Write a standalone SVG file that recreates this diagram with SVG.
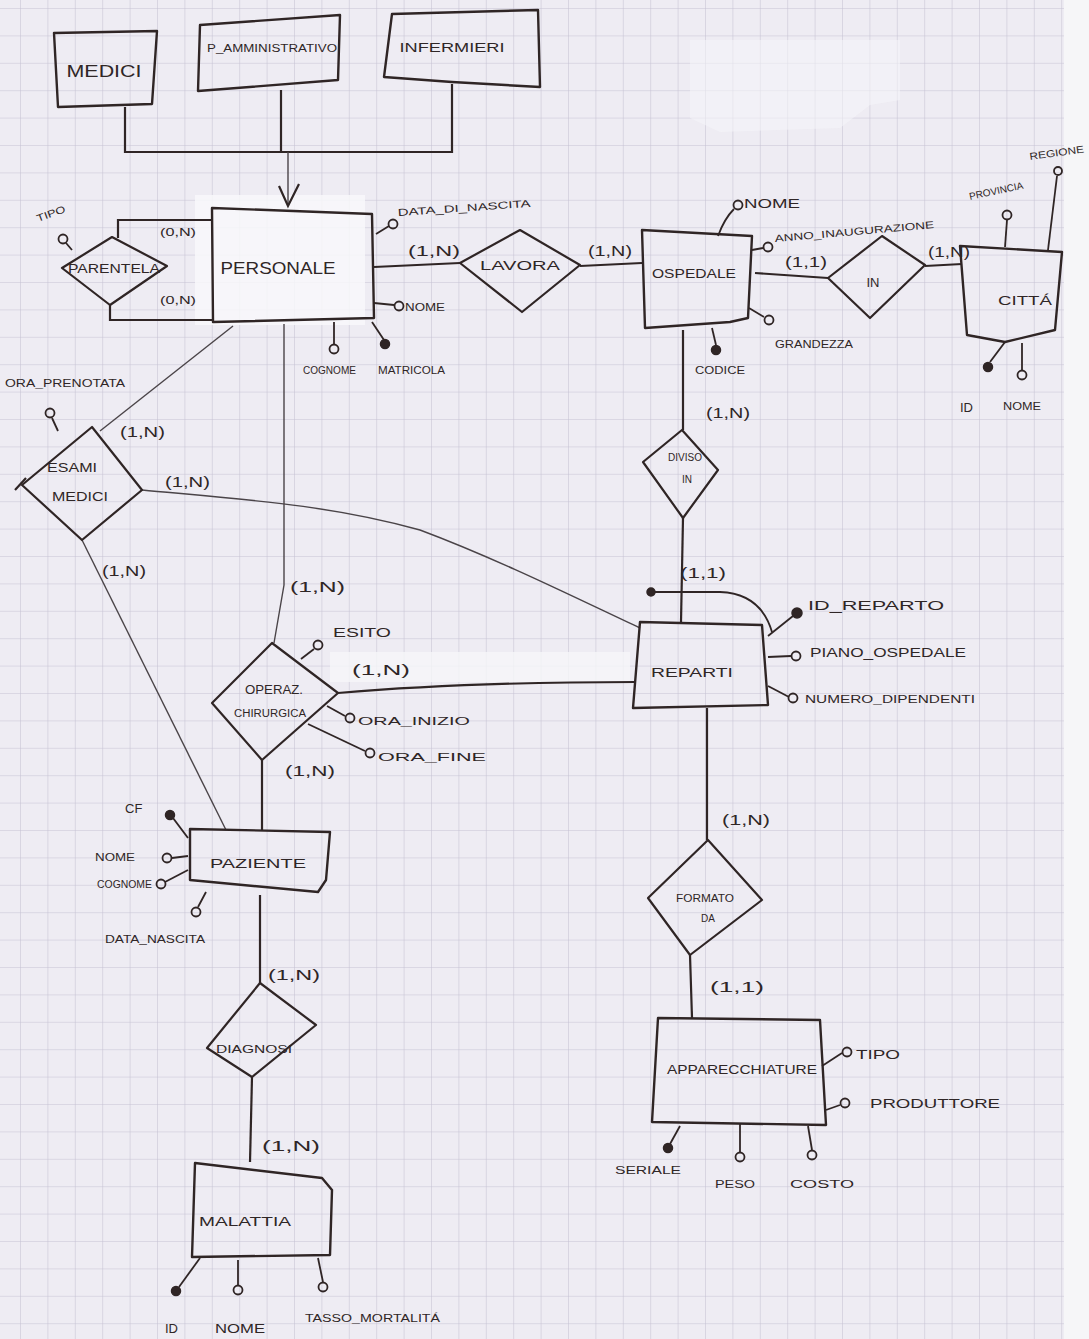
<svg xmlns="http://www.w3.org/2000/svg" width="1089" height="1339" viewBox="0 0 1089 1339">
<defs>
<pattern id="grid" x="20" y="8" width="27.4" height="27.4" patternUnits="userSpaceOnUse">
<path d="M0,0 H27.4 M0,0 V27.4" fill="none" stroke="#c5c2d3" stroke-width="1.1"/>
</pattern>
<style>
.ent{fill:none;stroke:#2f2525;stroke-width:2.4;stroke-linejoin:round}
.rel{fill:none;stroke:#2f2525;stroke-width:2.2;stroke-linejoin:round}
.ln{fill:none;stroke:#2f2525;stroke-width:2.2}
.thin{fill:none;stroke:#4a4448;stroke-width:1.4}
.att{fill:none;stroke:#2f2525;stroke-width:1.8}
.key{fill:#2f2525;stroke:#2f2525;stroke-width:1.5}
text{font-family:"Liberation Sans",Arial,sans-serif;fill:#2f2626}
.t1{font-size:17px}
.t2{font-size:13px}
.t3{font-size:10px}
.card{font-size:15px}
</style>
</defs>
<g id="background">
<rect width="1089" height="1339" fill="#eeecf3"/>
<rect width="1089" height="1339" fill="url(#grid)"/>
<rect x="1064" y="0" width="25" height="1339" fill="#f6f6f8"/>
<path d="M690,40 H900 V100 L870,105 L840,128 L720,132 L690,118 Z" fill="#f6f6f9" opacity="0.55"/>
<rect x="195" y="195" width="170" height="130" fill="#f8f8fa" opacity="0.85"/>
<rect x="330" y="652" width="300" height="30" fill="#f6f6f9" opacity="0.8"/>
</g>
<g id="connectors">
<path class="ln" d="M125,107 V152 H452 V84"/>
<path class="ln" d="M281,90 V152"/>
<path class="thin" d="M288,152 V206"/>
<path class="ln" d="M279,186 L288,206 L299,184"/>
<path class="ln" d="M118,238 V220 H212"/>
<path class="ln" d="M110,305 V320 H212"/>
<path class="ln" d="M374,267 L460,263"/>
<path class="ln" d="M580,266 L642,263"/>
<path class="ln" d="M755,273 L828,278"/>
<path class="ln" d="M925,266 L962,264"/>
<path class="ln" d="M683,330 V430"/>
<path class="ln" d="M683,518 L681,622"/>
<path class="thin" d="M100,431 L233,326"/>
<path class="thin" d="M142,490 C250,500 330,505 420,530 C500,560 580,600 640,628"/>
<path class="thin" d="M82,540 L226,830"/>
<path class="thin" d="M284,324 V585 L274,643"/>
<path class="ln" d="M338,693 C420,686 520,682 636,682"/>
<path class="ln" d="M262,760 V830"/>
<path class="ln" d="M260,895 V983"/>
<path class="ln" d="M252,1077 L250,1162"/>
<path class="ln" d="M707,708 V840"/>
<path class="ln" d="M690,955 L692,1018"/>
</g>
<g id="medici">
<path class="ent" d="M54,33 L157,31 L152,104 L58,107 Z"/>
<text class="t1" x="104" y="77" text-anchor="middle" textLength="75" lengthAdjust="spacingAndGlyphs">MEDICI</text>
</g>
<g id="p_amministrativo">
<path class="ent" d="M200,25 L340,15 L338,80 L198,91 Z"/>
<text class="t3" x="272" y="52" text-anchor="middle" textLength="130" lengthAdjust="spacingAndGlyphs">P_AMMINISTRATIVO</text>
</g>
<g id="infermieri">
<path class="ent" d="M392,14 L538,10 L540,87 L452,82 L384,77 Z"/>
<text class="t2" x="452" y="52" text-anchor="middle" textLength="105" lengthAdjust="spacingAndGlyphs">INFERMIERI</text>
</g>
<g id="personale">
<path class="ent" d="M212,208 L372,214 L374,318 L213,322 Z"/>
<text class="t1" x="278" y="274" text-anchor="middle" textLength="115" lengthAdjust="spacingAndGlyphs">PERSONALE</text>
<path class="att" d="M376,234 L389,226"/><circle class="att" cx="393" cy="224" r="4.5"/>
<text class="t3" x="398" y="216" textLength="133" lengthAdjust="spacingAndGlyphs" transform="rotate(-4 398 216)">DATA_DI_NASCITA</text>
<path class="att" d="M374,303 L394,305"/><circle class="att" cx="399" cy="306" r="4.5"/>
<text class="t3" x="405" y="311" textLength="40" lengthAdjust="spacingAndGlyphs">NOME</text>
<path class="att" d="M334,322 V344"/><circle class="att" cx="334" cy="349" r="4.5"/>
<text class="t3" x="303" y="374" textLength="53" lengthAdjust="spacingAndGlyphs">COGNOME</text>
<path class="att" d="M372,322 L384,340"/><circle class="key" cx="385" cy="344" r="4.5"/>
<text class="t3" x="378" y="374" textLength="67" lengthAdjust="spacingAndGlyphs">MATRICOLA</text>
<text class="card" x="408" y="256" textLength="52" lengthAdjust="spacingAndGlyphs">(1,N)</text>
</g>
<g id="parentela">
<path class="rel" d="M62,268 L112,237 L167,266 L110,305 Z"/>
<text class="t2" x="114" y="273" text-anchor="middle" textLength="92" lengthAdjust="spacingAndGlyphs">PARENTELA</text>
<path class="att" d="M72,250 L66,243"/><circle class="att" cx="63" cy="239" r="4.5"/>
<text class="t3" x="38" y="222" textLength="30" lengthAdjust="spacingAndGlyphs" transform="rotate(-20 38 222)">TIPO</text>
<text class="t3" x="160" y="236" textLength="36" lengthAdjust="spacingAndGlyphs">(0,N)</text>
<text class="t3" x="160" y="304" textLength="36" lengthAdjust="spacingAndGlyphs">(0,N)</text>
</g>
<g id="lavora">
<path class="rel" d="M460,263 L520,230 L580,265 L522,312 Z"/>
<text class="t2" x="520" y="270" text-anchor="middle" textLength="80" lengthAdjust="spacingAndGlyphs">LAVORA</text>
<text class="card" x="588" y="256" textLength="44" lengthAdjust="spacingAndGlyphs">(1,N)</text>
</g>
<g id="ospedale">
<path class="ent" d="M642,230 L752,236 L748,318 L730,322 L645,328 Z"/>
<text class="t2" x="694" y="278" text-anchor="middle" textLength="84" lengthAdjust="spacingAndGlyphs">OSPEDALE</text>
<path class="att" d="M718,236 C722,225 728,215 734,209"/><circle class="att" cx="738" cy="205" r="4.5"/>
<text class="t2" x="744" y="208" textLength="56" lengthAdjust="spacingAndGlyphs">NOME</text>
<circle class="att" cx="768" cy="247" r="4.5"/><path class="att" d="M752,250 L763,248"/>
<text class="t3" x="775" y="242" textLength="160" lengthAdjust="spacingAndGlyphs" transform="rotate(-5 775 242)">ANNO_INAUGURAZIONE</text>
<path class="att" d="M749,308 L764,317"/><circle class="att" cx="769" cy="320" r="4.5"/>
<text class="t3" x="775" y="348" textLength="78" lengthAdjust="spacingAndGlyphs">GRANDEZZA</text>
<path class="att" d="M712,328 L716,345"/><circle class="key" cx="716" cy="350" r="4.5"/>
<text class="t3" x="695" y="374" textLength="50" lengthAdjust="spacingAndGlyphs">CODICE</text>
<text class="card" x="706" y="418" textLength="44" lengthAdjust="spacingAndGlyphs">(1,N)</text>
<text class="card" x="785" y="267" textLength="42" lengthAdjust="spacingAndGlyphs">(1,1)</text>
</g>
<g id="in">
<path class="rel" d="M828,278 L882,236 L925,265 L870,318 Z"/>
<text class="t2" x="873" y="287" text-anchor="middle">IN</text>
<text class="card" x="928" y="257" textLength="42" lengthAdjust="spacingAndGlyphs">(1,N)</text>
</g>
<g id="citta">
<path class="ent" d="M960,246 L1062,252 L1055,330 L1005,342 L967,335 Z"/>
<text class="t2" x="1025" y="305" text-anchor="middle" textLength="54" lengthAdjust="spacingAndGlyphs">CITTÁ</text>
<path class="att" d="M1007,220 L1005,247"/><circle class="att" cx="1007" cy="215" r="4.5"/>
<text class="t3" x="970" y="200" textLength="55" lengthAdjust="spacingAndGlyphs" transform="rotate(-12 970 200)">PROVINCIA</text>
<path class="att" d="M1057,176 L1048,250"/><circle class="att" cx="1058" cy="171" r="4"/>
<text class="t3" x="1030" y="160" textLength="55" lengthAdjust="spacingAndGlyphs" transform="rotate(-8 1030 160)">REGIONE</text>
<path class="att" d="M1005,342 L990,362"/><circle class="key" cx="988" cy="367" r="4.5"/>
<text class="t2" x="960" y="412">ID</text>
<path class="att" d="M1022,343 V370"/><circle class="att" cx="1022" cy="375" r="4.5"/>
<text class="t3" x="1003" y="410" textLength="38" lengthAdjust="spacingAndGlyphs">NOME</text>
</g>
<g id="diviso_in">
<path class="rel" d="M643,462 L682,430 L718,470 L683,518 Z"/>
<text class="t3" x="685" y="461" text-anchor="middle">DIVISO</text>
<text class="t3" x="687" y="483" text-anchor="middle">IN</text>
<text class="card" x="680" y="578" textLength="46" lengthAdjust="spacingAndGlyphs">(1,1)</text>
</g>
<g id="reparti">
<path class="ent" d="M640,622 L762,625 L768,705 L633,708 Z"/>
<text class="t2" x="692" y="677" text-anchor="middle" textLength="82" lengthAdjust="spacingAndGlyphs">REPARTI</text>
<path class="att" d="M652,592 H720 C748,593 765,608 772,632"/><circle class="key" cx="651" cy="592" r="4"/>
<path class="att" d="M768,636 L793,616"/><circle class="key" cx="797" cy="613" r="5"/>
<text class="t2" x="808" y="610" textLength="136" lengthAdjust="spacingAndGlyphs">ID_REPARTO</text>
<path class="att" d="M768,657 L791,656"/><circle class="att" cx="796" cy="656" r="4.5"/>
<text class="t2" x="810" y="657" textLength="156" lengthAdjust="spacingAndGlyphs">PIANO_OSPEDALE</text>
<path class="att" d="M768,686 L789,697"/><circle class="att" cx="793" cy="698" r="4.5"/>
<text class="t3" x="805" y="703" textLength="170" lengthAdjust="spacingAndGlyphs">NUMERO_DIPENDENTI</text>
<text class="card" x="722" y="825" textLength="48" lengthAdjust="spacingAndGlyphs">(1,N)</text>
</g>
<g id="esami_medici">
<path class="rel" d="M22,485 L92,427 L142,490 L82,540 Z"/>
<path class="rel" d="M15,490 L26,478"/>
<text class="t2" x="72" y="472" text-anchor="middle" textLength="50" lengthAdjust="spacingAndGlyphs">ESAMI</text>
<text class="t2" x="80" y="501" text-anchor="middle" textLength="56" lengthAdjust="spacingAndGlyphs">MEDICI</text>
<path class="att" d="M52,418 L58,431"/><circle class="att" cx="50" cy="413" r="4.5"/>
<text class="t3" x="5" y="387" textLength="120" lengthAdjust="spacingAndGlyphs">ORA_PRENOTATA</text>
<text class="card" x="120" y="437" textLength="45" lengthAdjust="spacingAndGlyphs">(1,N)</text>
<text class="card" x="165" y="487" textLength="45" lengthAdjust="spacingAndGlyphs">(1,N)</text>
<text class="card" x="102" y="576" textLength="44" lengthAdjust="spacingAndGlyphs">(1,N)</text>
</g>
<g id="operaz_chirurgica">
<path class="rel" d="M212,703 L272,643 L338,693 L262,760 Z"/>
<text class="t2" x="274" y="694" text-anchor="middle" textLength="58" lengthAdjust="spacingAndGlyphs">OPERAZ.</text>
<text class="t3" x="270" y="717" text-anchor="middle" textLength="72" lengthAdjust="spacingAndGlyphs">CHIRURGICA</text>
<text class="card" x="290" y="592" textLength="55" lengthAdjust="spacingAndGlyphs">(1,N)</text>
<path class="att" d="M301,659 L314,649"/><circle class="att" cx="318" cy="645" r="4.5"/>
<text class="t2" x="333" y="637" textLength="58" lengthAdjust="spacingAndGlyphs">ESITO</text>
<text class="card" x="352" y="675" textLength="58" lengthAdjust="spacingAndGlyphs">(1,N)</text>
<path class="att" d="M327,706 L345,716"/><circle class="att" cx="350" cy="718" r="4.5"/>
<text class="t3" x="358" y="725" textLength="112" lengthAdjust="spacingAndGlyphs">ORA_INIZIO</text>
<path class="att" d="M308,724 L365,751"/><circle class="att" cx="370" cy="753" r="4.5"/>
<text class="t3" x="378" y="761" textLength="108" lengthAdjust="spacingAndGlyphs">ORA_FINE</text>
<text class="card" x="285" y="776" textLength="50" lengthAdjust="spacingAndGlyphs">(1,N)</text>
</g>
<g id="paziente">
<path class="ent" d="M190,829 L330,832 L326,880 L318,892 L190,880 Z"/>
<text class="t2" x="258" y="868" text-anchor="middle" textLength="96" lengthAdjust="spacingAndGlyphs">PAZIENTE</text>
<path class="att" d="M188,838 L173,818"/><circle class="key" cx="170" cy="815" r="4.5"/>
<text class="t2" x="125" y="813">CF</text>
<path class="att" d="M188,856 L172,858"/><circle class="att" cx="167" cy="858" r="4.5"/>
<text class="t3" x="95" y="861" textLength="40" lengthAdjust="spacingAndGlyphs">NOME</text>
<path class="att" d="M188,870 L165,882"/><circle class="att" cx="161" cy="884" r="4.5"/>
<text class="t3" x="97" y="888" textLength="55" lengthAdjust="spacingAndGlyphs">COGNOME</text>
<path class="att" d="M206,892 L198,907"/><circle class="att" cx="196" cy="912" r="4.5"/>
<text class="t3" x="105" y="943" textLength="100" lengthAdjust="spacingAndGlyphs">DATA_NASCITA</text>
<text class="card" x="268" y="980" textLength="52" lengthAdjust="spacingAndGlyphs">(1,N)</text>
</g>
<g id="diagnosi">
<path class="rel" d="M207,1048 L260,983 L316,1025 L252,1077 Z"/>
<text class="t3" x="254" y="1053" text-anchor="middle" textLength="76" lengthAdjust="spacingAndGlyphs">DIAGNOSI</text>
<text class="card" x="262" y="1151" textLength="58" lengthAdjust="spacingAndGlyphs">(1,N)</text>
</g>
<g id="malattia">
<path class="ent" d="M195,1163 L322,1178 L332,1190 L330,1255 L192,1257 Z"/>
<text class="t2" x="245" y="1226" text-anchor="middle" textLength="92" lengthAdjust="spacingAndGlyphs">MALATTIA</text>
<path class="att" d="M200,1258 L179,1287"/><circle class="key" cx="176" cy="1291" r="4.5"/>
<text class="t2" x="165" y="1333">ID</text>
<path class="att" d="M238,1260 V1285"/><circle class="att" cx="238" cy="1290" r="4.5"/>
<text class="t2" x="215" y="1333" textLength="50" lengthAdjust="spacingAndGlyphs">NOME</text>
<path class="att" d="M318,1258 L323,1282"/><circle class="att" cx="323" cy="1287" r="4.5"/>
<text class="t3" x="305" y="1322" textLength="135" lengthAdjust="spacingAndGlyphs">TASSO_MORTALITÁ</text>
</g>
<g id="formato_da">
<path class="rel" d="M648,898 L708,840 L762,900 L690,955 Z"/>
<text class="t3" x="705" y="902" text-anchor="middle" textLength="58" lengthAdjust="spacingAndGlyphs">FORMATO</text>
<text class="t3" x="708" y="922" text-anchor="middle">DA</text>
<text class="card" x="710" y="992" textLength="54" lengthAdjust="spacingAndGlyphs">(1,1)</text>
</g>
<g id="apparecchiature">
<path class="ent" d="M658,1018 L820,1020 L826,1125 L652,1122 Z"/>
<text class="t2" x="742" y="1074" text-anchor="middle" textLength="150" lengthAdjust="spacingAndGlyphs">APPARECCHIATURE</text>
<path class="att" d="M822,1066 L842,1053"/><circle class="att" cx="847" cy="1052" r="4.5"/>
<text class="t2" x="856" y="1059" textLength="44" lengthAdjust="spacingAndGlyphs">TIPO</text>
<path class="att" d="M826,1110 L840,1105"/><circle class="att" cx="845" cy="1103" r="4.5"/>
<text class="t2" x="870" y="1108" textLength="130" lengthAdjust="spacingAndGlyphs">PRODUTTORE</text>
<path class="att" d="M680,1126 L670,1144"/><circle class="key" cx="668" cy="1148" r="4.5"/>
<text class="t3" x="615" y="1174" textLength="66" lengthAdjust="spacingAndGlyphs">SERIALE</text>
<path class="att" d="M740,1124 V1152"/><circle class="att" cx="740" cy="1157" r="4.5"/>
<text class="t3" x="715" y="1188" textLength="40" lengthAdjust="spacingAndGlyphs">PESO</text>
<path class="att" d="M808,1126 L812,1150"/><circle class="att" cx="812" cy="1155" r="4.5"/>
<text class="t3" x="790" y="1188" textLength="64" lengthAdjust="spacingAndGlyphs">COSTO</text>
</g>
</svg>
